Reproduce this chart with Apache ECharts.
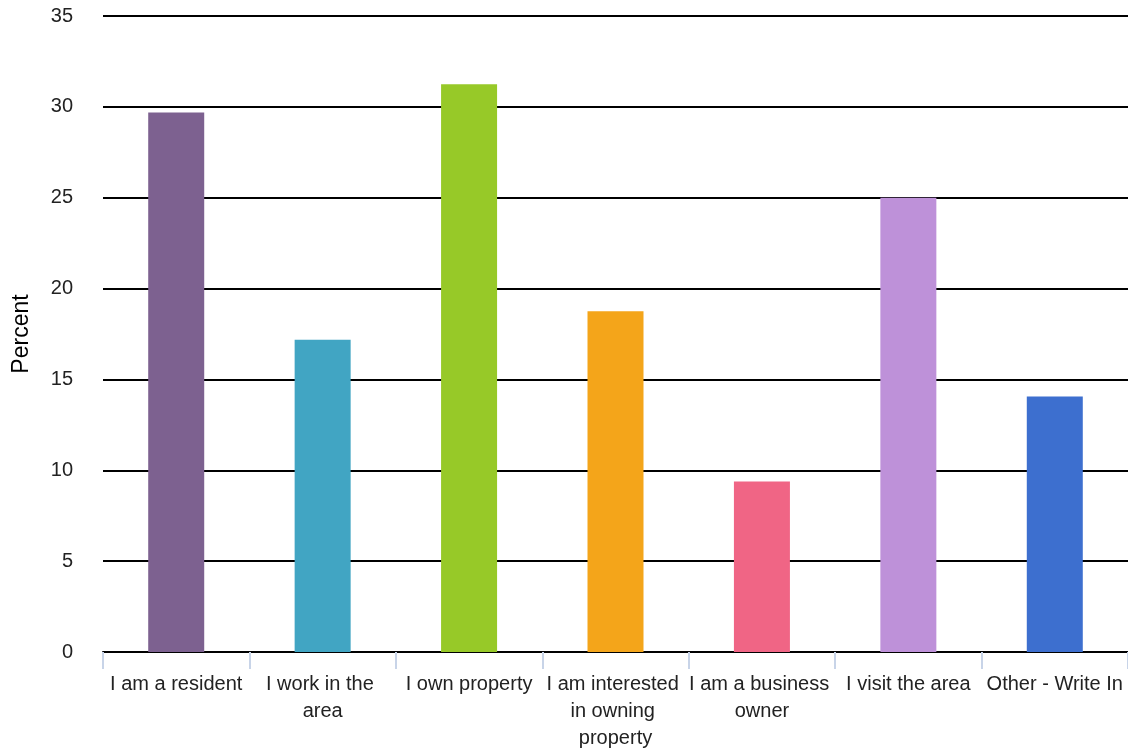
<!DOCTYPE html>
<html lang="en">
<head>
  <meta charset="UTF-8" />
  <title>Percent by relationship to area</title>
  <script src="https://cdn.jsdelivr.net/npm/echarts@6/dist/echarts.min.js"></script>
  <style>
    html, body { margin: 0; padding: 0; background: #fff; }
    #chart { width: 1128px; height: 751px; }
  </style>
</head>
<body>
  <div id="chart"></div>
  <script>
    // categories and values
    const categories = [
      'I am a resident',
      'I work in the area',
      'I own property',
      'I am interested in owning property',
      'I am a business owner',
      'I visit the area',
      'Other - Write In'
    ];
    const percents = [29.69, 17.19, 31.25, 18.75, 9.38, 25, 14.06];
    const barColors = ['#7d6190', '#41a5c3', '#97c928', '#f4a51a', '#f06585', '#be91d9', '#3d6fcf'];
    const yTicks = { min: 0, max: 35, interval: 5 };

    const font = 'Liberation Sans, Arial, sans-serif';
    const chart = echarts.init(document.getElementById('chart'));
    chart.setOption({
      animation: false,
      grid: { left: 103, right: 0, top: 16, bottom: 99, outerBoundsMode: 'none', containLabel: false },
      xAxis: {
        type: 'category',
        data: categories,
        axisLine: { lineStyle: { color: '#000', width: 2 } },
        axisTick: { show: true, length: 17, lineStyle: { color: '#c8d4e8', width: 2 } },
        axisLabel: {
          interval: 0,
          color: '#222',
          fontFamily: font,
          fontSize: 20,
          lineHeight: 27,
          width: 146,
          overflow: 'break',
          margin: 19
        }
      },
      yAxis: {
        type: 'value',
        min: yTicks.min,
        max: yTicks.max,
        interval: yTicks.interval,
        name: 'Percent',
        nameLocation: 'middle',
        nameGap: 70,
        nameTextStyle: { fontFamily: font, fontSize: 23, color: '#000' },
        axisLine: { show: false },
        axisTick: { show: false },
        axisLabel: {
          color: '#222',
          fontFamily: font,
          fontSize: 20,
          margin: 30,
          padding: [8, 0, 0, 0]
        },
        splitLine: { lineStyle: { color: '#000', width: 2 } }
      },
      series: [{
        type: 'bar',
        data: percents.map((v, i) => ({ value: v, itemStyle: { color: barColors[i] } })),
        barWidth: 56
      }]
    });
  </script>
</body>
</html>
